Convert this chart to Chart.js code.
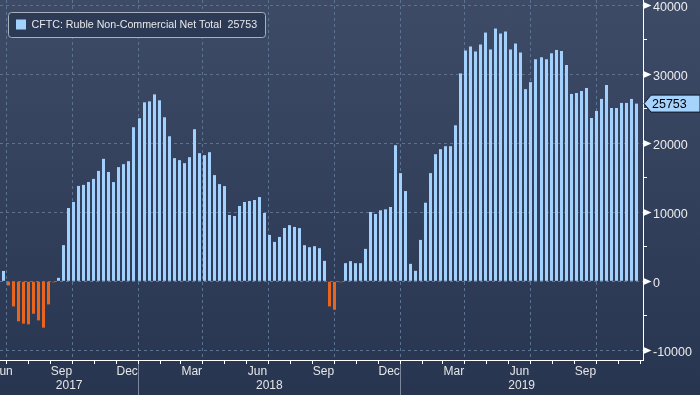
<!DOCTYPE html>
<html>
<head>
<meta charset="utf-8">
<script src="https://cdn.jsdelivr.net/npm/chart.js@4.4.1/dist/chart.umd.min.js"></script>
<style>
html,body{margin:0;padding:0;width:700px;height:395px;overflow:hidden;background:linear-gradient(#3d4b67,#283551);}
#wrap{position:relative;width:700px;height:395px;}
canvas{display:block;}
</style>
</head>
<body>
<div id="wrap"><canvas id="c" width="700" height="395"></canvas></div>
<script>
// ---------------- data ----------------
const seriesName = 'CFTC: Ruble Non-Commercial Net Total';
const firstWeek = '2017-06-27';   // weekly CFTC report dates (Tuesdays) start here
const netPositions = [
  1500, -600, -3640, -5800, -6140, -6240, -4700, -5660, -6720, -3350,
  -150, 500, 5240, 10620, 11500, 13820, 13970, 14400, 14840, 16000,
  17750, 15840, 14380, 16550, 16980, 17410, 22330, 23630, 25940, 26080,
  27090, 26230, 23770, 21020, 17850, 17560, 17120, 17990, 22040, 18570,
  18280, 18710, 15390, 14090, 13800, 9610, 9460, 10910, 11490, 11630,
  11780, 12210, 9900, 6720, 5710, 6430, 7730, 8140, 7880, 7710,
  5230, 4940, 5090, 4800, 2960, -3640, -4120, -150, 2630, 2920,
  2630, 2630, 4700, 10040, 9750, 10290, 10430, 10770, 19720, 15680,
  13080, 2530, 1520, 6000, 11390, 15680, 18420, 19150, 19580, 19580,
  22610, 30130, 33450, 34030, 33310, 34320, 36050, 33600, 36630, 35910,
  36200, 33600, 34460, 33160, 27850, 28860, 32180, 32470, 32180, 33050,
  33530, 33380, 31350, 27150, 27290, 27580, 28020, 23670, 24690, 26430,
  28450, 25120, 25120, 25850, 25850, 26430, 25753
];
const monthTickLabels = ['Jun','Sep','Dec','Mar','Jun','Sep','Dec','Mar','Jun','Sep'];
const monthTickMonths = ['2017-06','2017-09','2017-12','2018-03','2018-06','2018-09','2018-12','2019-03','2019-06','2019-09'];
const yearLabels = ['2017','2018','2019'];
const yTickValues = [-10000, 0, 10000, 20000, 30000, 40000];

// ---------------- helpers ----------------
const ORIGIN = Date.UTC(2017, 0, 1);
const dayOf = s => (Date.parse(s) - ORIGIN) / 864e5;
const dayYM = (y, m) => (Date.UTC(y, m - 1, 1) - ORIGIN) / 864e5;
const X_MIN = dayOf('2017-06-22T08:00:00Z');
const X_MAX = dayOf('2019-12-05T02:00:00Z');
const Y_MIN = -11406, Y_MAX = 40768;

const BLUE = '#a3d1fd', ORANGE = '#e8651d', GRID = '#5d7190';
const FONT = 'Liberation Sans';

const w0 = dayOf(firstWeek);
const barData = netPositions.map((v, i) => ({x: w0 + 7 * i, y: v}));

const monthStarts = [];
for (let y = 2017; y <= 2019; y++) for (let m = 1; m <= 12; m++) {
  const d = dayYM(y, m);
  if (d >= X_MIN && d <= X_MAX) monthStarts.push({value: d, month: m});
}
const visCenter = (a, b) => (Math.max(a, X_MIN) + Math.min(b, X_MAX)) / 2;
const monthLabelPos = monthTickMonths.map(s => {
  const [y, m] = s.split('-').map(Number);
  return visCenter(dayYM(y, m), dayYM(m === 12 ? y + 1 : y, m === 12 ? 1 : m + 1));
});
const yearLabelPos = yearLabels.map(s => visCenter(dayYM(+s, 1), dayYM(+s + 1, 1)));
const yearSeps = yearLabels.slice(1).map(s => dayYM(+s, 1));

const noPadX = s => { s.paddingLeft = 0; s.paddingRight = 0; };
const baseX = {
  type: 'linear', axis: 'x', position: 'bottom', min: X_MIN, max: X_MAX, offset: false,
  border: {display: false},
};

const snapPlugin = {
  id: 'snap',
  afterDatasetsUpdate(chart) {
    chart.getDatasetMeta(0).data.forEach(el => { el.x = Math.round(el.x - 1.5) + 1.5; });
  }
};

const decorPlugin = {
  id: 'decor',
  afterDraw(chart) {
    const ctx = chart.ctx, ys = chart.scales.y;
    const axisX = ys.left;
    ctx.save();
    ctx.fillStyle = '#ffffff';
    yTickValues.forEach(v => {
      const y = Math.round(ys.getPixelForValue(v)) + 0.5;
      ctx.beginPath();
      ctx.moveTo(axisX + 0.5, y - 3.5);
      ctx.lineTo(axisX + 8.5, y);
      ctx.lineTo(axisX + 0.5, y + 3.5);
      ctx.closePath();
      ctx.fill();
    });
    const last = netPositions[netPositions.length - 1];
    const ly = ys.getPixelForValue(last);
    ctx.beginPath();
    ctx.moveTo(axisX + 1, ly);
    ctx.lineTo(axisX + 8, ly - 8.5);
    ctx.lineTo(700, ly - 8.5);
    ctx.lineTo(700, ly + 8.5);
    ctx.lineTo(axisX + 8, ly + 8.5);
    ctx.closePath();
    ctx.fillStyle = '#a6d3fc';
    ctx.fill();
    ctx.strokeStyle = '#0e1828';
    ctx.lineWidth = 1;
    ctx.stroke();
    ctx.fillStyle = '#000000';
    ctx.font = '12.5px "' + FONT + '"';
    ctx.textBaseline = 'middle';
    ctx.textAlign = 'left';
    ctx.fillText(String(last), axisX + 9, ly + 0.5);
    // legend box
    const bx = 8.5, by = 12.5, bw = 257, bh = 25, r = 3;
    ctx.beginPath();
    ctx.moveTo(bx + r, by);
    ctx.lineTo(bx + bw - r, by);
    ctx.arcTo(bx + bw, by, bx + bw, by + r, r);
    ctx.lineTo(bx + bw, by + bh - r);
    ctx.arcTo(bx + bw, by + bh, bx + bw - r, by + bh, r);
    ctx.lineTo(bx + r, by + bh);
    ctx.arcTo(bx, by + bh, bx, by + bh - r, r);
    ctx.lineTo(bx, by + r);
    ctx.arcTo(bx, by, bx + r, by, r);
    ctx.closePath();
    ctx.fillStyle = '#2c3a56';
    ctx.fill();
    ctx.strokeStyle = '#a9b0bc';
    ctx.stroke();
    ctx.fillStyle = BLUE;
    ctx.fillRect(16, 19.5, 10, 10);
    ctx.fillStyle = '#e8e8e8';
    const legendText = seriesName + '  ' + last;
    ctx.font = '12px "' + FONT + '"';
    const fitSize = 12 * 226 / ctx.measureText(legendText).width;
    ctx.font = fitSize.toFixed(2) + 'px "' + FONT + '"';
    ctx.fillText(legendText, 31.5, 25);
    ctx.restore();
  }
};

new Chart(document.getElementById('c'), {
  type: 'bar',
  data: {
    datasets: [{
      label: seriesName,
      data: barData,
      backgroundColor: c => (c.raw && c.raw.y < 0) ? ORANGE : BLUE,
      borderWidth: 0,
      barThickness: 3,
      inflateAmount: 0,
      xAxisID: 'x', yAxisID: 'y'
    }]
  },
  options: {
    responsive: false,
    animation: false,
    devicePixelRatio: 1,
    layout: {padding: 0},
    plugins: {legend: {display: false}, tooltip: {enabled: false}},
    scales: {
      x: Object.assign({}, baseX, {
        weight: 0,
        afterBuildTicks: s => { s.ticks = monthStarts.map(t => ({value: t.value})); },
        afterFit: s => { s.height = 4; noPadX(s); },
        ticks: {display: false},
        grid: {
          offset: false, drawOnChartArea: true, drawTicks: true, tickLength: 4,
          color: c => {
            const t = monthStarts.find(m => Math.abs(m.value - c.tick.value) < 0.01);
            return (t && (t.month - 1) % 3 === 0) ? GRID : 'rgba(0,0,0,0)';
          },
          tickColor: '#ffffff', tickWidth: 1, lineWidth: 1
        },
        border: {display: true, color: '#ffffff', width: 1, dash: [3, 3]}
      }),
      xsep: Object.assign({}, baseX, {
        weight: 1,
        afterBuildTicks: s => { s.ticks = yearSeps.map(v => ({value: v})); },
        afterFit: s => { s.height = 0; noPadX(s); },
        ticks: {display: false},
        grid: {offset: false, drawOnChartArea: false, drawTicks: true, tickLength: 40,
               tickColor: '#7c879b', tickWidth: 1, color: 'rgba(0,0,0,0)'}
      }),
      xm: Object.assign({}, baseX, {
        weight: 2,
        afterBuildTicks: s => { s.ticks = monthLabelPos.map(v => ({value: v})); },
        afterFit: s => { s.height = 14; noPadX(s); },
        grid: {display: false, drawTicks: false, drawOnChartArea: false, offset: false},
        ticks: {
          autoSkip: false, maxRotation: 0, minRotation: 0, padding: 0,
          color: '#e6e6e6', font: {family: FONT, size: 12},
          callback: (v, i) => monthTickLabels[i]
        }
      }),
      xy: Object.assign({}, baseX, {
        weight: 3,
        afterBuildTicks: s => { s.ticks = yearLabelPos.map(v => ({value: v})); },
        afterFit: s => { s.height = 17; noPadX(s); },
        grid: {display: false, drawTicks: false, drawOnChartArea: false, offset: false},
        ticks: {
          autoSkip: false, maxRotation: 0, minRotation: 0, padding: 0,
          color: '#e6e6e6', font: {family: FONT, size: 12},
          callback: (v, i) => yearLabels[i]
        }
      }),
      y: {
        type: 'linear', position: 'right', min: Y_MIN, max: Y_MAX,
        afterBuildTicks: s => {
          const t = [];
          for (let v = yTickValues[0]; v <= yTickValues[yTickValues.length - 1]; v += 5000) t.push({value: v});
          s.ticks = t;
        },
        afterFit: s => { s.width = 57; s.paddingTop = 0; s.paddingBottom = 0; },
        ticks: {
          padding: 6, labelOffset: 2,
          color: '#ececec', font: {family: FONT, size: 12.5},
          callback: v => yTickValues.includes(v) ? String(v) : ''
        },
        grid: {
          drawTicks: true, tickLength: 4, tickColor: '#ffffff', tickWidth: 1, lineWidth: 1,
          color: c => yTickValues.includes(c.tick.value) ? GRID : 'rgba(0,0,0,0)'
        },
        border: {display: true, color: '#ffffff', width: 1, dash: [3, 3]}
      }
    }
  },
  plugins: [snapPlugin, decorPlugin]
});
</script>
</body>
</html>
